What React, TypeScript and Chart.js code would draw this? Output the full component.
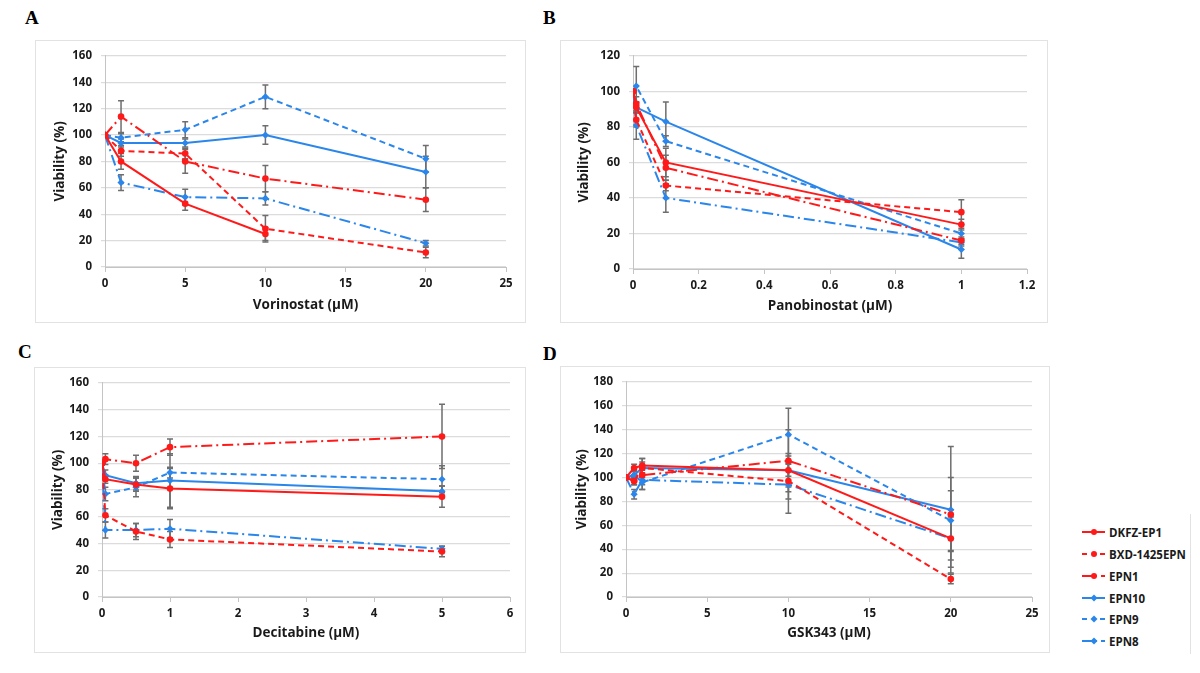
import React, { useEffect, useRef } from 'react';
import { Chart, registerables } from 'chart.js';

Chart.register(...registerables);

// ---------------- data ----------------
const seriesNames = ['DKFZ-EP1', 'BXD-1425EPN', 'EPN1', 'EPN10', 'EPN9', 'EPN8'];

const vorinostatDose = [0, 1, 5, 10, 20];
const vorinostatViability = [
  [100, 80, 48, 25, null],
  [100, 88, 86, 29, 11],
  [100, 114, 80, 67, 51],
  [100, 94, 94, 100, 72],
  [100, 98, 104, 129, 82],
  [100, 64, 53, 52, 18],
];
const vorinostatSD = [
  [0, 6, 5, 5, 0],
  [0, 4, 4, 10, 4],
  [0, 12, 9, 10, 9],
  [0, 3, 3, 7, 12],
  [0, 3, 6, 9, 10],
  [0, 6, 6, 5, 2],
];

const panobinostatDose = [0, 0.01, 0.1, 1];
const panobinostatViability = [
  [100, 91, 60, 25],
  [100, 84, 47, 32],
  [100, 93, 57, 16],
  [100, 91, 83, 11],
  [100, 103, 72, 20],
  [100, 81, 40, 15],
];
const panobinostatSD = [
  [0, 3, 8, 3],
  [0, 4, 3, 7],
  [0, 4, 7, 2],
  [0, 3, 11, 5],
  [0, 11, 3, 3],
  [0, 8, 8, 2],
];

const decitabineDose = [0, 0.05, 0.5, 1, 5];
const decitabineViability = [
  [100, 88, 84, 81, 75],
  [100, 61, 49, 43, 34],
  [100, 103, 100, 112, 120],
  [100, 91, 85, 87, 79],
  [100, 77, 82, 93, 88],
  [100, 50, 50, 51, 36],
];
const decitabineSD = [
  [0, 3, 5, 15, 8],
  [0, 5, 6, 6, 4],
  [0, 4, 6, 6, 24],
  [0, 4, 5, 20, 4],
  [0, 5, 7, 4, 10],
  [0, 6, 5, 7, 2],
];

const gskDose = [0, 0.5, 1, 10, 20];
const gskViability = [
  [100, 108, 110, 106, 49],
  [100, 97, 108, 97, 15],
  [100, 97, 102, 114, 69],
  [100, 102, 108, 106, 73],
  [100, 102, 96, 136, 64],
  [100, 86, 98, 94, 49],
];
const gskSD = [
  [0, 3, 6, 14, 18],
  [0, 3, 5, 15, 4],
  [0, 3, 8, 26, 31],
  [0, 4, 8, 5, 53],
  [0, 3, 6, 22, 25],
  [0, 4, 8, 24, 24],
];

// ---------------- styles ----------------
const RED = '#ff1a1a';
const BLUE = '#2a86ea';
const GRID = '#dcdcdc';
const AXIS = '#c4c4c4';
const TEXT = '#1a1a1a';
const ERR = '#6e6e6e';
const seriesColor = [RED, RED, RED, BLUE, BLUE, BLUE];
const seriesDash: number[][] = [[], [6, 4], [11, 4, 2, 4], [], [6, 4], [11, 4, 2, 4]];
const seriesMarker = ['circle', 'circle', 'circle', 'rectRot', 'rectRot', 'rectRot'];
const FONT = "'Open Sans', 'DejaVu Sans', sans-serif";

type PanelCfg = {
  letter: string;
  letterPos: [number, number];
  doses: number[];
  values: (number | null)[][];
  errors: number[][];
  xMax: number;
  xStep: number;
  yMax: number;
  xTitle: string;
  frame: [number, number, number, number];
  plot: [number, number, number, number];
  xTitleGap: number;
  yTitleGap: number;
};

const panels: PanelCfg[] = [
  {
    letter: 'A', letterPos: [25, 8],
    doses: vorinostatDose, values: vorinostatViability, errors: vorinostatSD,
    xMax: 25, xStep: 5, yMax: 160, xTitle: 'Vorinostat (\u00b5M)',
    frame: [35, 40, 526, 323], plot: [105, 52, 506, 267], xTitleGap: 18, yTitleGap: 25,
  },
  {
    letter: 'B', letterPos: [543, 8],
    doses: panobinostatDose, values: panobinostatViability, errors: panobinostatSD,
    xMax: 1.2, xStep: 0.2, yMax: 120, xTitle: 'Panobinostat (\u00b5M)',
    frame: [560, 40, 1048, 323], plot: [633, 52, 1027, 269], xTitleGap: 17, yTitleGap: 24,
  },
  {
    letter: 'C', letterPos: [18, 342],
    doses: decitabineDose, values: decitabineViability, errors: decitabineSD,
    xMax: 6, xStep: 1, yMax: 160, xTitle: 'Decitabine (\u00b5M)',
    frame: [34, 367, 526, 653], plot: [102, 380, 510, 597], xTitleGap: 20, yTitleGap: 24,
  },
  {
    letter: 'D', letterPos: [543, 344],
    doses: gskDose, values: gskViability, errors: gskSD,
    xMax: 25, xStep: 5, yMax: 180, xTitle: 'GSK343 (\u00b5M)',
    frame: [560, 366, 1050, 653], plot: [626, 379, 1032, 597], xTitleGap: 20, yTitleGap: 22,
  },
];

const errorBarPlugin = {
  id: 'errorBars',
  beforeDatasetsDraw(chart: any) {
    const ctx = chart.ctx;
    const yScale = chart.scales.y;
    ctx.save();
    ctx.strokeStyle = ERR;
    ctx.lineWidth = 1.5;
    chart.data.datasets.forEach((ds: any, i: number) => {
      const meta = chart.getDatasetMeta(i);
      ds.data.forEach((pt: any, j: number) => {
        const e = ds.errors ? ds.errors[j] : 0;
        if (pt.y == null || !e) return;
        const el = meta.data[j];
        if (!el) return;
        const x = el.x;
        const yt = yScale.getPixelForValue(pt.y + e);
        const yb = yScale.getPixelForValue(pt.y - e);
        ctx.beginPath();
        ctx.moveTo(x, yt);
        ctx.lineTo(x, yb);
        ctx.moveTo(x - 3, yt);
        ctx.lineTo(x + 3, yt);
        ctx.moveTo(x - 3, yb);
        ctx.lineTo(x + 3, yb);
        ctx.stroke();
      });
    });
    ctx.restore();
  },
};

function fmt(v: number) {
  return String(Math.round(v * 10) / 10);
}

function ChartPanel({ cfg }: { cfg: PanelCfg }) {
  const ref = useRef<HTMLCanvasElement>(null);
  const [fl, ft, fr, fb] = cfg.frame;
  const [pl, pt, pr, pb] = cfg.plot;
  const w = fr - fl;
  const h = fb - ft;
  useEffect(() => {
    const tickFont = { family: FONT, size: 11.5, weight: 'bold' as const };
    const titleFont = { family: FONT, size: 13.5, weight: 'bold' as const };
    const lh = 13.5 * 1.2;
    const chart = new Chart(ref.current as HTMLCanvasElement, {
      type: 'line',
      data: {
        datasets: seriesNames.map((name, i) => ({
          label: name,
          data: cfg.doses.map((d, j) => ({ x: d, y: cfg.values[i][j] })),
          errors: cfg.errors[i],
          borderColor: seriesColor[i],
          backgroundColor: seriesColor[i],
          borderWidth: 2,
          borderDash: seriesDash[i],
          pointStyle: seriesMarker[i],
          pointRadius: i < 3 ? 3.3 : 3.6,
          pointBorderWidth: 0,
          pointHoverRadius: 3,
          tension: 0,
          fill: false,
          spanGaps: false,
        })) as any,
      },
      options: {
        animation: false,
        responsive: false,
        events: [],
        layout: { padding: { top: pt - ft, right: fr - pr, left: 0, bottom: 0 } },
        plugins: { legend: { display: false }, tooltip: { enabled: false } },
        scales: {
          x: {
            type: 'linear',
            min: 0,
            max: cfg.xMax,
            ticks: { stepSize: cfg.xStep, color: TEXT, font: tickFont, padding: 5, maxRotation: 0, callback: (v: any) => fmt(Number(v)) },
            grid: { drawOnChartArea: false, color: AXIS, tickLength: 5 },
            border: { color: AXIS, width: 1 },
            title: { display: true, text: cfg.xTitle, color: TEXT, font: titleFont, padding: { top: 0, bottom: cfg.xTitleGap - lh / 2 } },
            afterFit: (s: any) => { s.height = fb - pb; },
          },
          y: {
            type: 'linear',
            min: 0,
            max: cfg.yMax,
            ticks: { stepSize: 20, color: TEXT, font: tickFont, padding: 9 },
            grid: { color: GRID, tickLength: 4, lineWidth: 1.2 },
            border: { color: AXIS, width: 1 },
            title: { display: true, text: 'Viability (%)', color: TEXT, font: titleFont, padding: { top: cfg.yTitleGap - lh / 2, bottom: 0 } },
            afterFit: (s: any) => { s.width = pl - fl; },
          },
        },
      } as any,
      plugins: [errorBarPlugin],
    });
    return () => chart.destroy();
  }, []);
  return (
    <>
      <div style={{ position: 'absolute', left: cfg.letterPos[0], top: cfg.letterPos[1], fontFamily: "'Liberation Serif', serif", fontWeight: 'bold', fontSize: 19, lineHeight: '19px', color: '#000' }}>{cfg.letter}</div>
      <div style={{ position: 'absolute', left: fl, top: ft, width: w, height: h, boxSizing: 'border-box', border: '1.5px solid #e2e2e2' }} />
      <canvas ref={ref} width={w} height={h} style={{ position: 'absolute', left: fl, top: ft, width: w, height: h }} />
    </>
  );
}

function LegendSample({ i }: { i: number }) {
  const c = seriesColor[i];
  const segs: [number, number][] = seriesDash[i].length === 0 ? [[0, 23]] : seriesDash[i].length === 2 ? [[0, 5], [18, 23]] : [[0, 15], [19, 23]];
  return (
    <svg width={24} height={10} style={{ display: 'block' }}>
      {segs.map((s, k) => (
        <line key={k} x1={s[0]} y1={5} x2={s[1]} y2={5} stroke={c} strokeWidth={2} />
      ))}
      {i < 3 ? (
        <circle cx={12} cy={5} r={3} fill={c} />
      ) : (
        <polygon points="12,1.5 15.5,5 12,8.5 8.5,5" fill={c} />
      )}
    </svg>
  );
}

const legendRowY = [532, 554, 576, 598, 619, 641];

function Legend() {
  return (
    <>
      <div style={{ position: 'absolute', left: 1190, top: 514, width: 0, height: 140, borderLeft: '1.5px solid #e2e2e2' }} />
      {seriesNames.map((n, i) => (
        <div key={n} style={{ position: 'absolute', left: 1082, top: legendRowY[i] - 9, height: 18, display: 'flex', alignItems: 'center' }}>
          <LegendSample i={i} />
          <span style={{ marginLeft: 3, fontFamily: FONT, fontWeight: 'bold', fontSize: 11.5, color: TEXT, whiteSpace: 'nowrap' }}>{n}</span>
        </div>
      ))}
    </>
  );
}

export default function App() {
  return (
    <div style={{ position: 'fixed', left: 0, top: 0, width: 1200, height: 673, background: '#fff', overflow: 'hidden' }}>
      {panels.map((p) => (
        <ChartPanel key={p.letter} cfg={p} />
      ))}
      <Legend />
    </div>
  );
}
